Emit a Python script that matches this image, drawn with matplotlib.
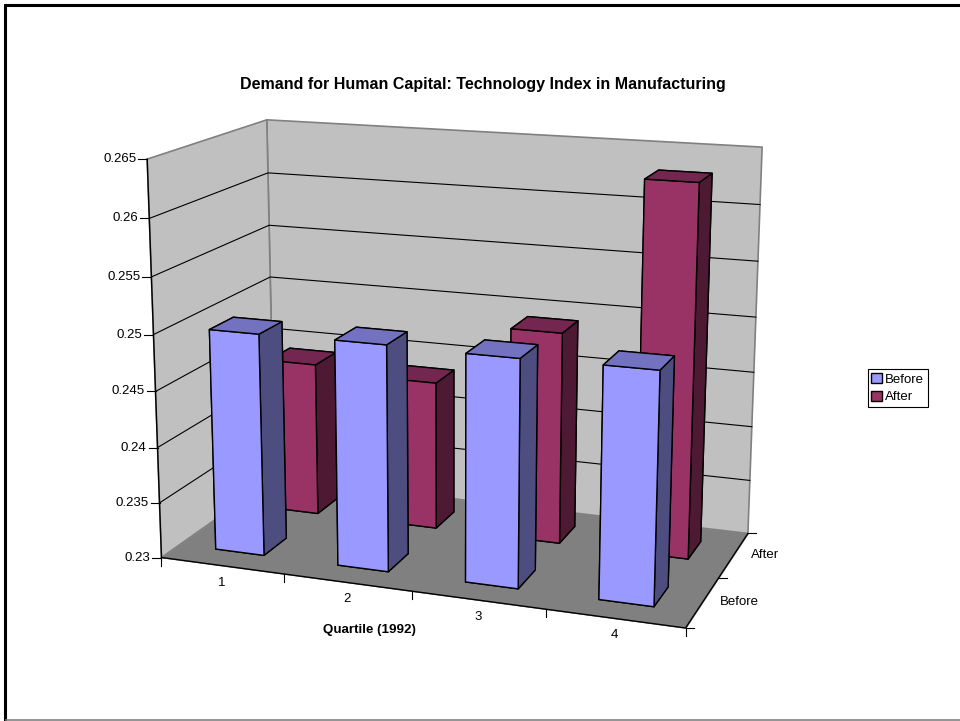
import matplotlib
matplotlib.use('Agg')
import matplotlib.pyplot as plt
import numpy as np
from matplotlib.patches import Patch
from mpl_toolkits.mplot3d.art3d import Poly3DCollection

plt.rcParams['font.family'] = ['Liberation Sans', 'DejaVu Sans']

# Chart values
quartiles = ['1', '2', '3', '4']
rows = ['Before', 'After']
before_vals = [0.2499, 0.2500, 0.2499, 0.2500]
after_vals = [0.2442, 0.2436, 0.2492, 0.2631]
value_ticks = [0.23, 0.235, 0.24, 0.245, 0.25, 0.255, 0.26, 0.265]
value_labels = ['0.23', '0.235', '0.24', '0.245', '0.25', '0.255', '0.26', '0.265']

W, H = 960, 721
Z0, Z1 = value_ticks[0], value_ticks[-1]
NX, NY = len(quartiles), len(rows)

# Camera calibration: box positions (x, y, z) and where they land on the page
box_pts = [(0, 0, .265), (0, 0, .26), (0, 0, .255), (0, 0, .25), (0, 0, .24), (0, 0, .235), (0, 0, .23),
           (0, 2, .265), (0, 2, .26), (0, 2, .255), (0, 2, .25), (0, 2, .23),
           (4, 2, .265), (4, 2, .23), (4, 0, .23), (1, 0, .23), (2, 0, .23), (3, 0, .23), (4, 1, .23)]
page_pts = [(146.7, 159), (149, 218.3), (151.3, 276.7), (154, 335), (157.7, 447), (160, 502), (162, 557),
            (266.7, 120), (268, 172.7), (269, 225.5), (270.7, 277), (273.5, 478),
            (762.3, 147.3), (748.3, 532.7), (685, 627), (284, 575), (411.7, 591.7), (545, 610.7), (719, 577.7)]


def unit_box(x, y, z):
    return x / NX, y / NY, (z - Z0) / (Z1 - Z0)


def solve_camera():
    rows_a = []
    for (x, y, z), (u, v) in zip(box_pts, page_pts):
        X = [*unit_box(x, y, z), 1]
        u, v = u / W, v / H
        rows_a.append(X + [0, 0, 0, 0] + [-u * c for c in X])
        rows_a.append([0, 0, 0, 0] + X + [-v * c for c in X])
    p = np.linalg.svd(np.array(rows_a))[2][-1].reshape(3, 4)
    if p[2] @ np.array([0.5, 0.5, 0.5, 1]) < 0:
        p = -p
    return p


cam = solve_camera()


def page_xy(x, y, z):
    q = cam @ np.array([*unit_box(x, y, z), 1])
    return q[0] / q[2] * W, q[1] / q[2] * H


fig = plt.figure(figsize=(9.6, 7.21), dpi=100, facecolor='white')
ax = fig.add_subplot(projection='3d', computed_zorder=False)
ax.set_position([0, 0, 1, 1])
ax.set_axis_off()
ax.patch.set_alpha(0)

scale = np.array([[1 / NX, 0, 0, 0], [0, 1 / NY, 0, 0],
                  [0, 0, 1 / (Z1 - Z0), -Z0 / (Z1 - Z0)], [0, 0, 0, 1]])
p_data = np.diag([W, H, 1]) @ cam @ scale


# mplot3d projection built from the camera: data -> view limits of the square axes
def view_proj():
    xl = ax.viewLim.intervalx
    yl = ax.viewLim.intervaly
    sx = (xl[1] - xl[0]) / H
    sy = (yl[1] - yl[0]) / H
    xc = (xl[0] + xl[1]) / 2
    yc = (yl[0] + yl[1]) / 2
    return np.vstack([(p_data[0] - W / 2 * p_data[2]) * sx + xc * p_data[2],
                      (H / 2 * p_data[2] - p_data[1]) * sy + yc * p_data[2],
                      [0, 0, 0, -1],
                      p_data[2]])


ax.get_proj = view_proj

# Walls and floor
wall_edge = '#808080'
walls = [[(0, 2, Z0), (NX, 2, Z0), (NX, 2, Z1), (0, 2, Z1)],
         [(0, 0, Z0), (0, 2, Z0), (0, 2, Z1), (0, 0, Z1)]]
ax.add_collection3d(Poly3DCollection(walls, facecolors='#C0C0C0', edgecolors=wall_edge, linewidths=1.2, zorder=1))
floor = [[(0, 0, Z0), (NX, 0, Z0), (NX, 2, Z0), (0, 2, Z0)]]
ax.add_collection3d(Poly3DCollection(floor, facecolors='#808080', edgecolors='#808080', linewidths=0.5, zorder=2))

# Gridlines on the walls
for v in value_ticks[1:-1]:
    ax.plot([0, 0, NX], [0, 2, 2], [v, v, v], color='black', lw=0.8, zorder=3)

# Front axis lines
ax.plot([0, 0], [0, 0], [Z0, Z1], color='black', lw=1, zorder=4)
ax.plot([0, NX, NX], [0, 0, 2], [Z0, Z0, Z0], color='black', lw=1, zorder=4)

colors_before = ['#4D4D80', '#7272C0', '#9999FF', '#9999FF', '#4D4D80', '#4D4D80']
colors_after = ['#4D1933', '#732650', '#993366', '#993366', '#4D1933', '#4D1933']
bar_w = 0.4
for j, (vals, cols) in enumerate([(after_vals, colors_after), (before_vals, colors_before)]):
    row = 1 - j
    for i, v in enumerate(vals):
        ax.bar3d(i + 0.3, row + 0.3, Z0, bar_w, bar_w, v - Z0, color=cols, shade=False,
                 edgecolor='black', linewidth=1, zorder=5 + j)

# Page-level layer: frame, title, tick marks, labels, legend
over = fig.add_axes([0, 0, 1, 1], facecolor='none')
over.set_xlim(0, W)
over.set_ylim(H, 0)
over.axis('off')

over.plot([W, 4.5, 4.5], [4.5, 4.5, H], color='black', lw=2.2, solid_joinstyle='miter')
over.plot([6, W], [720.2, 720.2], color='#808080', lw=1.2)
over.text(483, 85, 'Demand for Human Capital: Technology Index in Manufacturing', fontsize=11.5,
          fontweight='bold', ha='center', va='center')
over.text(369, 630, 'Quartile (1992)', fontsize=9.6, fontweight='bold', ha='center', va='center')

for v, lab in zip(value_ticks, value_labels):
    px, py = page_xy(0, 0, v)
    over.plot([px - 9, px], [py, py], color='black', lw=0.8)
    over.text(px - 11, py, lab, fontsize=9.5, ha='right', va='center')

for i in range(NX + 1):
    px, py = page_xy(i, 0, Z0)
    over.plot([px, px], [py, py + 8], color='black', lw=0.8)
for i, lab in enumerate(quartiles):
    px, py = page_xy(i + 0.5, 0, Z0)
    over.text(px, py + 17, lab, fontsize=9.5, ha='center', va='center')

for j in range(NY + 1):
    px, py = page_xy(NX, j, Z0)
    over.plot([px, px + 8], [py, py], color='black', lw=0.8)
for j, lab in enumerate(rows):
    px, py = page_xy(NX, j + 0.5, Z0)
    over.text(px + 17, py, lab, fontsize=9.5, ha='left', va='center')

handles = [Patch(facecolor='#9999FF', edgecolor='black', label='Before'),
           Patch(facecolor='#993366', edgecolor='black', label='After')]
leg = over.legend(handles=handles, loc='upper left', bbox_to_anchor=(867.5, 369), bbox_transform=over.transData,
                  fancybox=False, framealpha=1, edgecolor='black', fontsize=9.5, borderaxespad=0,
                  borderpad=0.3, handlelength=0.8, handleheight=0.8, handletextpad=0.2, labelspacing=0.4)
leg.get_frame().set_linewidth(0.8)

fig.savefig('out.png', dpi=100)
